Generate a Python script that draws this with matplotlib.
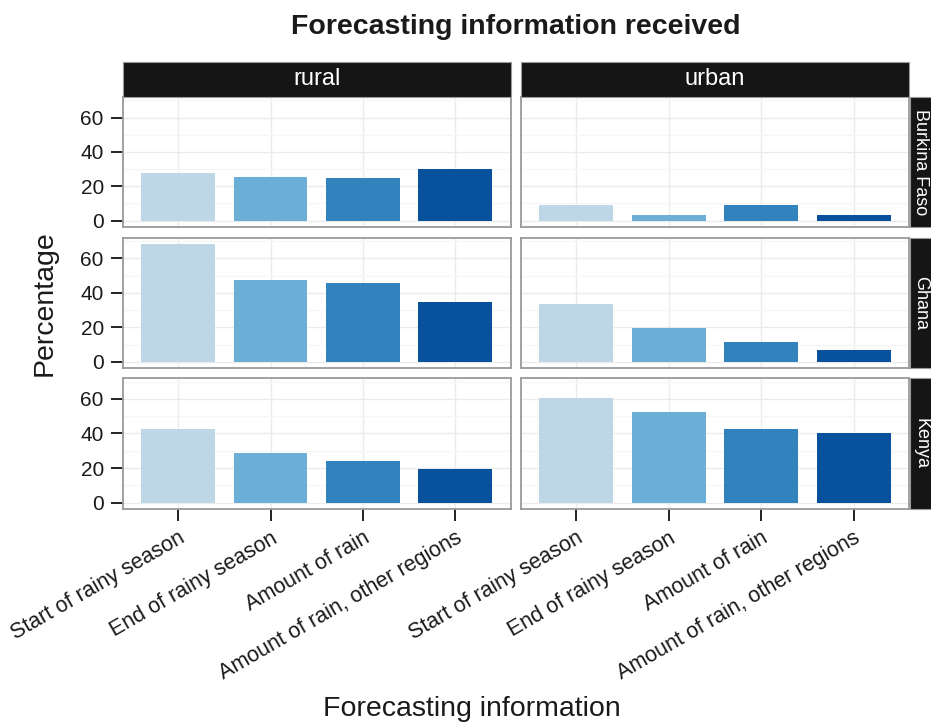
import numpy as np
import matplotlib.pyplot as plt
from matplotlib.ticker import MultipleLocator

plt.rcParams['font.family'] = ['Liberation Sans', 'DejaVu Sans']

# Data (percentages)
categories = ['Start of rainy season', 'End of rainy season',
              'Amount of rain', 'Amount of rain, other regions']
areas = ['rural', 'urban']
countries = ['Burkina Faso', 'Ghana', 'Kenya']

burkina_rural = [28, 25.5, 25, 30]
burkina_urban = [9, 3.3, 9, 3.3]
ghana_rural = [68.6, 47.4, 45.7, 34.8]
ghana_urban = [33.6, 19.9, 11.3, 6.7]
kenya_rural = [42.5, 28.7, 24.1, 19.4]
kenya_urban = [60.4, 52.3, 42.5, 40.2]

values = {
    ('Burkina Faso', 'rural'): burkina_rural,
    ('Burkina Faso', 'urban'): burkina_urban,
    ('Ghana', 'rural'): ghana_rural,
    ('Ghana', 'urban'): ghana_urban,
    ('Kenya', 'rural'): kenya_rural,
    ('Kenya', 'urban'): kenya_urban,
}
colors = ['#BDD7E7', '#6BAED6', '#3182BD', '#08519C']

W, H = 931, 725
fig = plt.figure(figsize=(W / 100, H / 100), dpi=100)


def rect(left, top, right, bottom):
    return [left / W, 1 - bottom / H, (right - left) / W, (bottom - top) / H]


col_x = [(122.7, 510.7), (521, 909)]
row_y = [(97, 226.5), (237.7, 367.7), (378, 508.7)]
strip_dark = '#151515'
text_col = '#1a1a1a'

ymax = max(max(v) for v in values.values())
ylo, yhi = -0.05 * ymax, 1.05 * ymax
x = np.arange(1, len(categories) + 1)

for i, country in enumerate(countries):
    for j, area in enumerate(areas):
        (l, r), (t, b) = col_x[j], row_y[i]
        ax = fig.add_axes(rect(l, t, r, b))
        ax.bar(x, values[(country, area)], width=0.8, color=colors, zorder=3)
        ax.set_xlim(0.4, 4.6)
        ax.set_ylim(ylo, yhi)
        ax.set_xticks(x)
        ax.yaxis.set_major_locator(MultipleLocator(20))
        ax.yaxis.set_minor_locator(MultipleLocator(10))
        ax.grid(which='major', color='#EBEBEB', lw=1.0, zorder=0)
        ax.grid(which='minor', axis='y', color='#F6F6F6', lw=1.0, zorder=0)
        for s in ax.spines.values():
            s.set_color('#9a9a9a')
            s.set_linewidth(1.3)
            s.set_zorder(4)
        ax.tick_params(which='minor', length=0)
        ax.tick_params(which='major', length=8.6, width=1.4, color='#222222',
                       labelsize=15, labelcolor=text_col, pad=5)
        if j == 0:
            ax.set_yticklabels([f'{int(v)}' for v in ax.get_yticks()])
        else:
            ax.tick_params(axis='y', length=0, labelleft=False)
        if i == len(countries) - 1:
            ax.set_xticklabels(categories, rotation=30, ha='right',
                               rotation_mode='anchor', fontsize=15.5)
        else:
            ax.tick_params(axis='x', length=0, labelbottom=False)

# column strips
for j, area in enumerate(areas):
    l, r = col_x[j]
    sax = fig.add_axes(rect(l, 62, r, 96.5))
    sax.set_facecolor(strip_dark)
    sax.set_xticks([]); sax.set_yticks([])
    for s in sax.spines.values():
        s.set_color('#9a9a9a')
        s.set_linewidth(0.8)
    sax.text(0.5, 0.5, area, color='white', fontsize=17,
             ha='center', va='center', transform=sax.transAxes)

# row strips (cut off at the right edge as in the original)
for i, country in enumerate(countries):
    t, b = row_y[i]
    sax = fig.add_axes(rect(909.5, t, 944, b))
    sax.set_facecolor(strip_dark)
    sax.set_xticks([]); sax.set_yticks([])
    for s in sax.spines.values():
        s.set_color('#9a9a9a')
        s.set_linewidth(0.8)
    fig.text(916 / W, 1 - (t + b) / 2 / H, country, color='white',
             fontsize=13, rotation=-90, rotation_mode='anchor',
             ha='center', va='baseline')

fig.text(516 / W, 1 - 27 / H, 'Forecasting information received',
         fontsize=20.5, fontweight='bold', color=text_col,
         ha='center', va='center')
fig.text(45 / W, 1 - 303 / H, 'Percentage', fontsize=20.5, color=text_col,
         rotation=90, ha='center', va='center')
fig.text(472 / W, 1 - 709 / H, 'Forecasting information', fontsize=20.5,
         color=text_col, ha='center', va='center')

fig.savefig('out.png', dpi=100)
